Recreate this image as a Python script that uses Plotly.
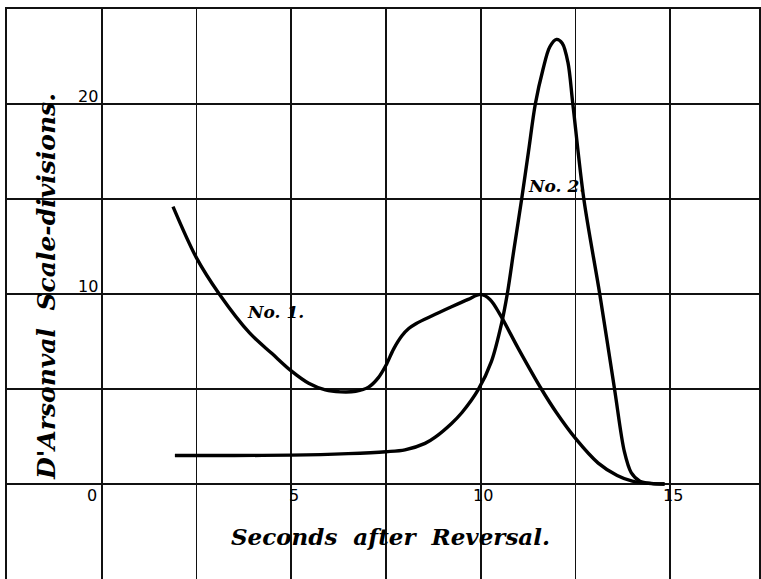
import plotly.graph_objects as go

# Curve No. 1
c1_x = [1.88, 2.5, 3.1, 3.9, 4.5, 5.0, 5.46, 5.9, 6.3, 6.7, 7.04, 7.3, 7.5, 7.7, 7.92, 8.1, 8.3, 8.8, 9.23, 9.67, 10.0, 10.25, 10.5, 11.0, 11.6, 12.0, 12.5, 13.1, 13.6, 14.0, 14.5, 14.85]
c1_y = [14.6, 11.9, 10.0, 7.95, 6.85, 5.95, 5.3, 4.95, 4.85, 4.88, 5.1, 5.6, 6.25, 7.1, 7.8, 8.18, 8.45, 8.93, 9.33, 9.72, 9.98, 9.7, 8.95, 7.1, 5.0, 3.75, 2.4, 1.1, 0.45, 0.15, 0.02, 0.0]

# Curve No. 2
c2_x = [1.93, 3.5, 5.0, 6.5, 7.5, 8.0, 8.53, 8.8, 9.23, 9.5, 9.93, 10.28, 10.55, 10.7, 10.88, 11.08, 11.26, 11.44, 11.64, 11.82, 12.0, 12.15, 12.3, 12.43, 12.72, 13.14, 13.53, 13.79, 13.97, 14.2, 14.5, 14.85]
c2_y = [1.5, 1.5, 1.52, 1.6, 1.7, 1.8, 2.14, 2.47, 3.19, 3.75, 4.95, 6.44, 8.46, 10.0, 12.4, 15.0, 17.5, 20.0, 21.8, 23.0, 23.4, 23.2, 22.2, 20.0, 15.0, 10.0, 5.0, 1.7, 0.6, 0.15, 0.03, 0.0]

x_ticks = [0, 5, 10, 15]
x_tick_labels = ["0", "5", "10", "15"]
y_ticks = [10, 20]
y_tick_labels = ["10", "20"]

curve_labels = ["No. 1.", "No. 2."]
curve_label_x = [4.58, 11.99]
curve_label_y = [9.05, 15.7]

x_title = "Seconds&nbsp;&nbsp;after&nbsp;&nbsp;Reversal."
y_title = "D'Arsonval&nbsp;&nbsp;Scale-divisions."

fig = go.Figure()
for xs, ys in [(c1_x, c1_y), (c2_x, c2_y)]:
    fig.add_trace(go.Scatter(
        x=xs, y=ys, mode="lines",
        line=dict(color="black", width=3.4, shape="spline", smoothing=0.9),
        showlegend=False, hoverinfo="skip",
    ))

serif = dict(family="DejaVu Serif", color="black", weight="bold", style="italic")
sans = dict(family="DejaVu Sans", color="black", size=16)

annotations = []
for v, t in zip(x_ticks, x_tick_labels):
    annotations.append(dict(
        x=v, y=-0.63, xref="x", yref="y", text=t, showarrow=False,
        xanchor="center", yanchor="middle",
        xshift=-9.5 if v == 0 else 2.5, font=sans,
    ))
for v, t in zip(y_ticks, y_tick_labels):
    annotations.append(dict(
        x=0, y=v, xref="x", yref="y", text=t, showarrow=False,
        xanchor="center", yanchor="middle", xshift=-14, yshift=8, font=sans,
    ))
for t, lx, ly in zip(curve_labels, curve_label_x, curve_label_y):
    annotations.append(dict(
        x=lx, y=ly, xref="x", yref="y", text=t, showarrow=False,
        xanchor="center", yanchor="middle", font=dict(serif, size=17),
    ))
annotations.append(dict(
    x=7.63, y=-2.74, xref="x", yref="y", text=x_title, showarrow=False,
    xanchor="center", yanchor="middle", font=dict(serif, size=23),
))
annotations.append(dict(
    x=-1.46, y=10.39, xref="x", yref="y", text=y_title, showarrow=False,
    textangle=-90, xanchor="center", yanchor="middle", font=dict(serif, size=25),
))

axis_common = dict(
    showgrid=True, gridcolor="#111111", gridwidth=1.6,
    zeroline=False, showticklabels=False, ticks="",
    showline=True, linecolor="#111111", linewidth=1.6, mirror=True,
    fixedrange=True,
)
fig.update_layout(
    width=761, height=579,
    margin=dict(l=7, r=0, t=9, b=0),
    paper_bgcolor="white", plot_bgcolor="white",
    xaxis=dict(axis_common, range=[-2.5, 17.342], tick0=0, dtick=2.5),
    yaxis=dict(axis_common, range=[-5, 25], tick0=0, dtick=5),
    annotations=annotations,
)
fig.write_html(
    "out.html",
    config={"displayModeBar": False, "staticPlot": True},
    post_script="document.body.style.margin='0';document.body.style.overflow='hidden';",
)
